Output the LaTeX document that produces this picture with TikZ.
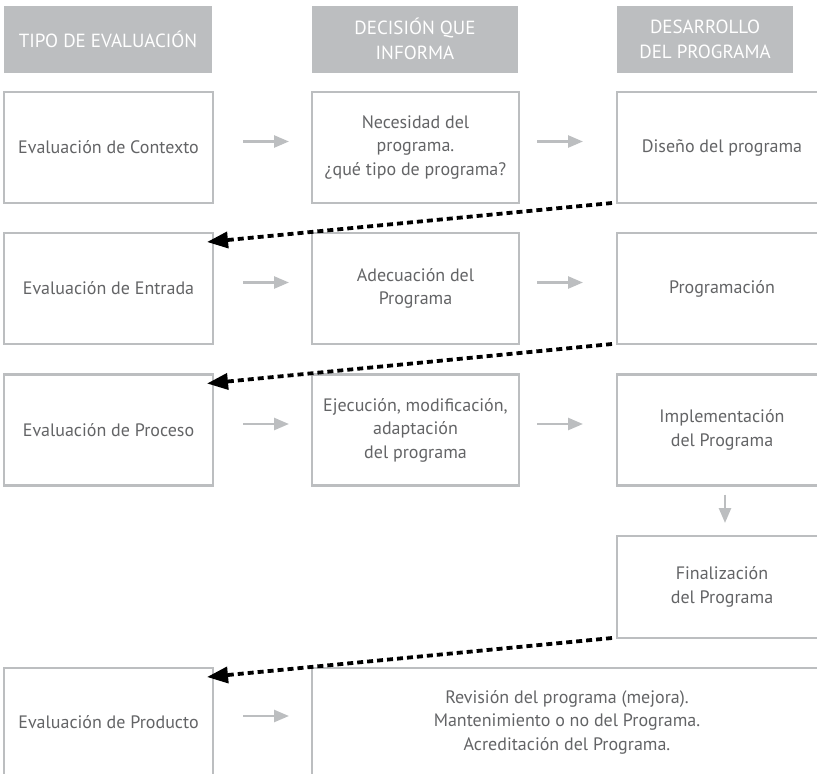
\documentclass[tikz,border=0pt]{standalone}
\usepackage{fontspec}
\setmainfont{PT Sans}
\usetikzlibrary{arrows.meta,calc,positioning}
\definecolor{linea}{HTML}{BCBEC0}
\definecolor{texto}{HTML}{636466}

\begin{document}
\begin{tikzpicture}[>=Stealth, x=1pt, y=-1pt,
  every node/.style={font=\fontsize{18}{23.5}\selectfont, text=texto, align=center},
  caja/.style={draw=linea, line width=2.5pt, inner sep=0pt, outer sep=0pt},
  cabecera/.style={fill=linea, text=white, minimum height=67, inner sep=0pt,
    font=\fontsize{19}{25}\selectfont},
  gris/.style={draw=linea, line width=2.5pt, -{Triangle[length=15,width=12]}},
  punteada/.style={line width=3.8pt, dash pattern=on 6pt off 4pt,
    -{Triangle[length=21,width=16]}}]
  \useasboundingbox (0,0) rectangle (817,774);
  \clip (0,0) rectangle (817,774);
  % cabeceras
  \node[cabecera, minimum width=208] (h1) at (108,39) {TIPO DE EVALUACIÓN};
  \node[cabecera, minimum width=206] (h2) at (415,39) {DECISIÓN QUE\\INFORMA};
  \node[cabecera, minimum width=176] (h3) at (705,39) {DESARROLLO\\DEL PROGRAMA};
  % filas
  \foreach \i/\y/\tipo/\decision/\desarrollo in {
    1/147.5/Contexto/{Necesidad del\\programa.\\¿qué tipo de programa?}/{Diseño del programa},
    2/288.5/Entrada/{Adecuación del\\Programa}/{Programación},
    3/430/Proceso/{Ejecución, modificación,\\adaptación\\del programa}/{Implementación\\del Programa}} {
    \node[caja, minimum width=209, minimum height=111] (e\i) at (108.5,\y) {Evaluación de \tipo};
    \node[caja, minimum width=207, minimum height=111] (d\i) at (415.5,\y) {\decision};
    \node[caja, minimum width=210, minimum height=111] (p\i) at (722,\y) {\desarrollo};
  }
  \node[caja, minimum width=210, minimum height=102] (p4) at (722,587) {Finalización\\del Programa};
  \node[caja, minimum width=209, minimum height=108] (e5) at (108.5,722) {Evaluación de Producto};
  \node[caja, minimum width=510, minimum height=108] (d5) at (567,722)
    {Revisión del programa (mejora).\\Mantenimiento o no del Programa.\\Acreditación del Programa.};
  % flechas grises
  \foreach \i in {1,2,3,5} {
    \draw[gris, shorten <=30pt, shorten >=23pt] ([yshift=6pt]e\i.east) -- ([yshift=6pt]d\i.west);
  }
  \foreach \i in {1,2,3} {
    \draw[gris, shorten <=18pt, shorten >=34pt] ([yshift=6pt]d\i.east) -- ([yshift=6pt]p\i.west);
  }
  \draw[gris, shorten <=9pt, shorten >=13pt] ([xshift=3pt]p3.south) -- ([xshift=3pt]p4.north);
  % retroalimentacion
  \draw[punteada] ([xshift=-5pt]p1.south west) -- ([xshift=-6pt,yshift=-9pt]e2.north east);
  \draw[punteada] ([xshift=-5pt]p2.south west) -- ([xshift=-6pt,yshift=-9pt]e3.north east);
  \draw[punteada] ([xshift=-5pt]p4.south west) -- ([xshift=-6pt,yshift=-9pt]e5.north east);
\end{tikzpicture}
\end{document}
